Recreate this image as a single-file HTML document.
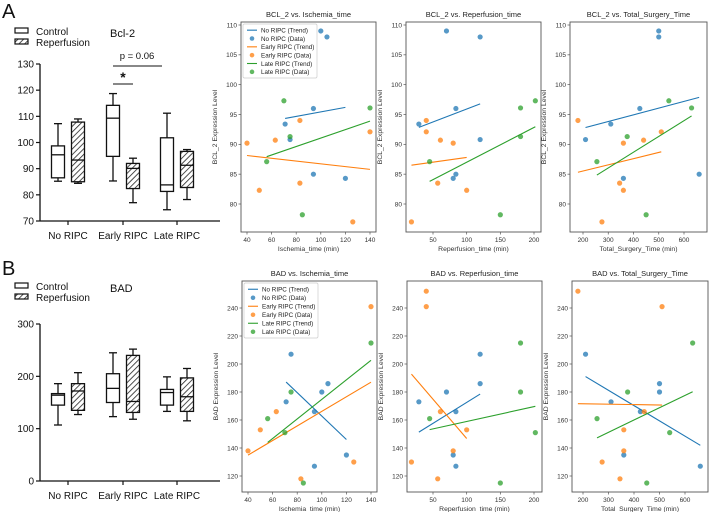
<!DOCTYPE html>
<html><head><meta charset="utf-8"><style>
html,body{margin:0;padding:0;background:#fff;}
svg{display:block;font-family:"Liberation Sans","DejaVu Sans",sans-serif;}
</style></head><body>
<svg id="fig" width="709" height="512" viewBox="0 0 709 512" xmlns="http://www.w3.org/2000/svg">
<defs>
<pattern id="hatch" patternUnits="userSpaceOnUse" width="4" height="4" patternTransform="rotate(45)">
<rect width="4" height="4" fill="#fff"/><line x1="0" y1="0" x2="0" y2="4" stroke="#222" stroke-width="1.6"/>
</pattern>
</defs>
<text x="2" y="18" font-size="20" fill="#111">A</text>
<text x="2" y="275" font-size="20" fill="#111">B</text>
</svg>
<script>
// ---------- Box plot data ----------
const boxCategories = ["No RIPC","Early RIPC","Late RIPC"];
// [whiskerLow, q1, median, q3, whiskerHigh]
const bcl2Control = [[85.2,86.5,95.3,98.7,107.2],[85.3,94.7,109.3,114.2,118.7],[74.3,81.3,83.8,101.8,111.2]];
const bcl2Reperf  = [[84.4,85,93.3,107.8,109],[77,82.4,90.1,92,94],[78.2,82.8,91.3,96.6,97.3]];
const badControl  = [[107,145,164,167,186],[123,150,177,205,245],[133,145,169,175,199]];
const badReperf   = [[127,135,172,186,207],[118,131,152,240,252],[115,133,161,197,215]];
const bcl2Ticks = [70,80,90,100,110,120,130];
const badTicks = [0,100,200,300];

// ---------- Scatter data (x values / y values per group) ----------
const groups = ["No RIPC","Early RIPC","Late RIPC"];
const ischNo = [71,75,94,94,100,105,120];
const ischEarly = [40,50,63,83,83,126,140];
const ischEarlyBad = [40,50,63,83,126,140];
const ischLate = [56,70,75,85,140];
const repNo = [29,84,80,84,70,120,120];
const repEarly = [18,40,40,57,61,80,100];
const repLate = [45,150,180,180,202];
const totNo = [310,210,360,425,500,500,660];
const totEarly = [275,180,510,345,440,360,360];
const totLate = [255,375,450,540,630];
const bclNo = [93.4,90.8,96,85,109,108,84.3];
const bclEarly = [90.2,82.3,90.7,94,83.5,77,92.1];
const bclLate = [87.1,97.3,91.3,78.2,96.1];
const bclRepNo = [93.4,96,84.3,85,109,108,90.8];
const bclRepEarly = [77,94,92.1,83.5,90.7,90.2,82.3];
const bclRepLate = [87.1,78.2,96.1,91.3,97.3];
const bclTotNo = [93.4,90.8,84.3,96,109,108,85];
const bclTotEarly = [77,94,92.1,83.5,90.7,90.2,82.3];
const bclTotLate = [87.1,91.3,78.2,97.3,96.1];
const badIschNo = [173,207,166,127,180,186,135];
const badIschEarly = [138,153,166,118,130,241];
const badIschLate = [161,151,180,115,215];
const badRepNo = [173,166,135,127,180,207,186];
const badRepEarly = [130,252,241,118,166,138,153];
const badRepLate = [161,115,215,180,151];
const badTotNo = [173,207,135,166,186,180,127];
const badTotEarly = [130,252,241,118,166,138,153];
const badTotLate = [161,180,115,151,215];
const ischTicks = [40,60,80,100,120,140];
const repTicks = [50,100,150,200];
const totTicks = [200,300,400,500,600];
const bclYTicks = [80,85,90,95,100,105,110];
const badYTicks = [120,140,160,180,200,220,240];

const NS = "http://www.w3.org/2000/svg";
const svg = document.getElementById("fig");
function mk(tag, attrs, parent, text){
  const e = document.createElementNS(NS, tag);
  for (const k in attrs) e.setAttribute(k, attrs[k]);
  if (text !== undefined) e.textContent = text;
  (parent || svg).appendChild(e);
  return e;
}
function lin(d0,d1,r0,r1){ return v => r0 + (v-d0)/(d1-d0)*(r1-r0); }

// ---------- Box plot ----------
function boxPanel(oy, yMin, yMax, yTop, yBot, ticks, ctrl, rep, title, key){
  const g = mk("g", {});
  
  
  const y = lin(yMin, yMax, yBot, yTop);
  const axX = 40;
  const ax = mk("line", {x1:axX,y1:yTop,x2:axX,y2:yBot,stroke:"#111","stroke-width":1.3}, g);
  
  
  mk("line", {x1:axX,y1:yBot,x2:220,y2:yBot,stroke:"#111","stroke-width":1.3}, g);
  ticks.forEach(t => {
    mk("line", {x1:axX-4,y1:y(t),x2:axX,y2:y(t),stroke:"#111","stroke-width":1.2}, g);
    const tl = mk("text", {x:axX-6,y:y(t)+3.5,"font-size":10,"text-anchor":"end",fill:"#111"}, g, t);
    
    
  });
  const cx = [68,123,177];
  boxCategories.forEach((c,i) => {
    mk("line", {x1:cx[i],y1:yBot,x2:cx[i],y2:yBot+4,stroke:"#111","stroke-width":1.2}, g);
    const cl = mk("text", {x:cx[i],y:yBot+18,"font-size":10,"text-anchor":"middle",fill:"#111"}, g, c);
    
    
    [[ctrl[i], cx[i]-10, "#fff", "control"], [rep[i], cx[i]+10, "url(#hatch)", "reperfusion"]].forEach(([v, x, fill, nm]) => {
      const w = 13;
      const bg = mk("g", {}, g);
      
      
      mk("line", {x1:x,y1:y(v[0]),x2:x,y2:y(v[4]),stroke:"#111","stroke-width":1.3}, bg);
      mk("line", {x1:x-4,y1:y(v[0]),x2:x+4,y2:y(v[0]),stroke:"#111","stroke-width":1.3}, bg);
      mk("line", {x1:x-4,y1:y(v[4]),x2:x+4,y2:y(v[4]),stroke:"#111","stroke-width":1.3}, bg);
      mk("rect", {x:x-w/2,y:y(v[3]),width:w,height:y(v[1])-y(v[3]),fill:fill,stroke:"#111","stroke-width":1.3}, bg);
      mk("line", {x1:x-w/2,y1:y(v[2]),x2:x+w/2,y2:y(v[2]),stroke:"#111","stroke-width":1.3}, bg);
    });
  });
  const tt = mk("text", {x:110,y:oy+37,"font-size":11,fill:"#111"}, g, title);
  
  
  const lg = mk("g", {}, g);
  
  
  mk("rect", {x:15,y:oy+28,width:13,height:5,fill:"#fff",stroke:"#111","stroke-width":1.2}, lg);
  mk("text", {x:36,y:oy+35,"font-size":10,fill:"#111"}, lg, "Control");
  mk("rect", {x:15,y:oy+39,width:13,height:5,fill:"url(#hatch)",stroke:"#111","stroke-width":1.2}, lg);
  mk("text", {x:36,y:oy+46,"font-size":10,fill:"#111"}, lg, "Reperfusion");
  return y;
}
boxPanel(0, 70, 130, 64, 221, bcl2Ticks, bcl2Control, bcl2Reperf, "Bcl-2", "bcl2");
boxPanel(255, 0, 300, 324, 481, badTicks, badControl, badReperf, "BAD", "bad");
const sig = mk("g", {});


mk("line", {x1:113,y1:66,x2:162,y2:66,stroke:"#111","stroke-width":1}, sig);
mk("text", {x:137,y:59,"font-size":9.5,"text-anchor":"middle",fill:"#111"}, sig, "p = 0.06");
mk("line", {x1:113,y1:84,x2:133,y2:84,stroke:"#111","stroke-width":1}, sig);
mk("text", {x:123,y:82,"font-size":14,"font-weight":"bold","text-anchor":"middle",fill:"#111"}, sig, "*");

// ---------- Scatter panels ----------
const colors = ["#1f77b4","#ff7f0e","#2ca02c"];
function regress(xs, ys){
  const n = xs.length; const mx = xs.reduce((a,b)=>a+b)/n; const my = ys.reduce((a,b)=>a+b)/n;
  let sxy=0, sxx=0; for (let i=0;i<n;i++){ sxy+=(xs[i]-mx)*(ys[i]-my); sxx+=(xs[i]-mx)**2; }
  const b = sxy/sxx; return [b, my-b*mx];
}
function scatter(cfg){
  const g = mk("g", {});
  
  
  const x = lin(cfg.xd[0], cfg.xd[1], cfg.xr[0], cfg.xr[1]);
  const y = lin(cfg.yd[0], cfg.yd[1], cfg.yr[0], cfg.yr[1]);
  const fr = mk("rect", {x:cfg.L,y:cfg.T,width:cfg.R-cfg.L,height:cfg.B-cfg.T,fill:"#fff",stroke:"#555","stroke-width":0.9}, g);
  
  
  cfg.xticks.forEach(t => {
    mk("line", {x1:x(t),y1:cfg.B,x2:x(t),y2:cfg.B+2.5,stroke:"#555","stroke-width":0.7}, g);
    const tl = mk("text", {x:x(t),y:cfg.B+10,"font-size":6.5,"text-anchor":"middle",fill:"#333"}, g, t);
    
    
  });
  cfg.yticks.forEach(t => {
    mk("line", {x1:cfg.L-2.5,y1:y(t),x2:cfg.L,y2:y(t),stroke:"#555","stroke-width":0.7}, g);
    const tl = mk("text", {x:cfg.L-4,y:y(t)+2.3,"font-size":6.5,"text-anchor":"end",fill:"#333"}, g, t);
    
    
  });
  const ti = mk("text", {x:(cfg.L+cfg.R)/2,y:cfg.T-5,"font-size":7.5,"text-anchor":"middle",fill:"#222"}, g, cfg.title);
  
  
  const xl = mk("text", {x:(cfg.L+cfg.R)/2,y:cfg.B+19,"font-size":6.8,"text-anchor":"middle",fill:"#333"}, g, cfg.xlabel);
  
  
  const yx = cfg.L-24, ym = (cfg.T+cfg.B)/2;
  const yl = mk("text", {x:yx,y:ym,"font-size":6.8,"text-anchor":"middle",fill:"#333",transform:`rotate(-90 ${yx} ${ym})`}, g, cfg.ylabel);
  
  
  cfg.series.forEach((s, i) => {
    const [xs, ys] = s;
    const [b, a] = regress(xs, ys);
    const x0 = Math.min(...xs), x1 = Math.max(...xs);
    const tr = mk("line", {x1:x(x0),y1:y(a+b*x0),x2:x(x1),y2:y(a+b*x1),stroke:colors[i],"stroke-width":1.1}, g);
    
    
    xs.forEach((xv, j) => {
      const c = mk("circle", {cx:x(xv),cy:y(ys[j]),r:2.6,fill:colors[i],"fill-opacity":0.75}, g);
      
      
    });
  });
  if (cfg.legend){
    const lg = mk("g", {}, g);
    
    
    const lx = cfg.L+2, ly = cfg.T+2, step = (cfg.legendH-4)/6;
    mk("rect", {x:lx,y:ly,width:74,height:cfg.legendH,fill:"#fff",stroke:"#ccc","stroke-width":0.7,rx:1.5}, lg);
    groups.forEach((gname, i) => {
      const y1 = ly + step*(2*i) + step/2 + 2, y2 = ly + step*(2*i+1) + step/2 + 2;
      mk("line", {x1:lx+4,y1:y1,x2:lx+14,y2:y1,stroke:colors[i],"stroke-width":1.1}, lg);
      const e1 = mk("text", {x:lx+18,y:y1+2.3,"font-size":6.3,fill:"#222"}, lg, gname + " (Trend)");
      
      
      mk("circle", {cx:lx+9,cy:y2,r:2.3,fill:colors[i],"fill-opacity":0.75}, lg);
      const e2 = mk("text", {x:lx+18,y:y2+2.3,"font-size":6.3,fill:"#222"}, lg, gname + " (Data)");
      
      
    });
  }
}
const topY = {T:22,B:232,yd:[80,110],yr:[204,25],yticks:bclYTicks,ylabel:"BCL_2 Expression Level"};
const botY = {T:281,B:492,yd:[120,240],yr:[476,308],yticks:badYTicks,ylabel:"BAD Expression Level"};
scatter(Object.assign({key:"bcl2-vs-ischemia",L:241,R:376,xd:[40,140],xr:[247,370],xticks:ischTicks,title:"BCL_2 vs. Ischemia_time",xlabel:"Ischemia_time (min)",legend:true,legendH:54,
  series:[[ischNo,bclNo],[ischEarly,bclEarly],[ischLate,bclLate]]}, topY));
scatter(Object.assign({key:"bcl2-vs-reperfusion",L:406,R:541,xd:[50,200],xr:[433,534],xticks:repTicks,title:"BCL_2 vs. Reperfusion_time",xlabel:"Reperfusion_time (min)",
  series:[[repNo,bclRepNo],[repEarly,bclRepEarly],[repLate,bclRepLate]]}, topY));
scatter(Object.assign({key:"bcl2-vs-total-surgery",L:570,R:707,xd:[200,600],xr:[583,684],xticks:totTicks,title:"BCL_2 vs. Total_Surgery_Time",xlabel:"Total_Surgery_Time (min)",
  series:[[totNo,bclTotNo],[totEarly,bclTotEarly],[totLate,bclTotLate]]}, topY));
scatter(Object.assign({key:"bad-vs-ischemia",L:242,R:377,xd:[40,140],xr:[248,371],xticks:ischTicks,title:"BAD vs. Ischemia_time",xlabel:"Ischemia_time (min)",legend:true,legendH:55,
  series:[[ischNo,badIschNo],[ischEarlyBad,badIschEarly],[ischLate,badIschLate]]}, botY));
scatter(Object.assign({key:"bad-vs-reperfusion",L:407,R:542,xd:[50,200],xr:[433,534],xticks:repTicks,title:"BAD vs. Reperfusion_time",xlabel:"Reperfusion_time (min)",
  series:[[repNo,badRepNo],[repEarly,badRepEarly],[repLate,badRepLate]]}, botY));
scatter(Object.assign({key:"bad-vs-total-surgery",L:572,R:708,xd:[200,600],xr:[583,685],xticks:totTicks,title:"BAD vs. Total_Surgery_Time",xlabel:"Total_Surgery_Time (min)",
  series:[[totNo,badTotNo],[totEarly,badTotEarly],[totLate,badTotLate]]}, botY));
</script>
</body></html>
